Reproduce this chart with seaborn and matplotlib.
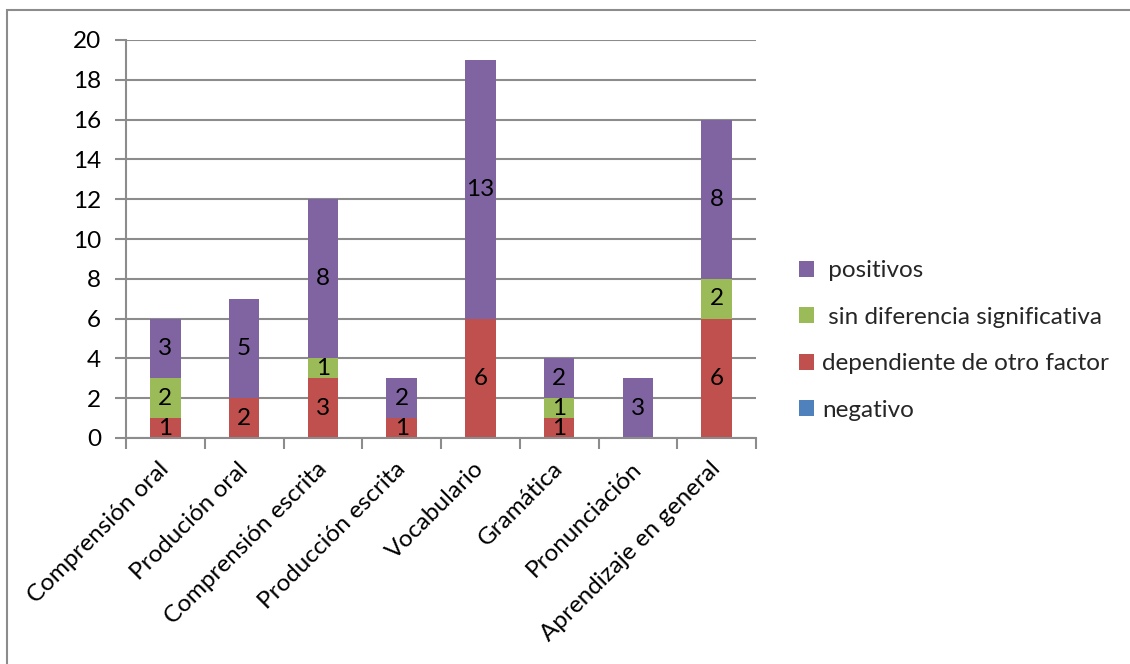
import matplotlib
matplotlib.use("Agg")
import matplotlib.pyplot as plt
from matplotlib.patches import Patch, Rectangle
from matplotlib.transforms import ScaledTranslation
import numpy as np
import pandas as pd
import seaborn as sns

# Categories and series counts
categorias = ["Comprensión oral", "Produción oral", "Comprensión escrita",
              "Producción escrita", "Vocabulario", "Gramática",
              "Pronunciación", "Aprendizaje en general"]
negativo = [0, 0, 0, 0, 0, 0, 0, 0]
dependiente = [1, 2, 3, 1, 6, 1, 0, 6]
sin_diferencia = [2, 0, 1, 0, 0, 1, 0, 2]
positivos = [3, 5, 8, 2, 13, 2, 3, 8]

series_names = ["negativo", "dependiente de otro factor",
                "sin diferencia significativa", "positivos"]
legend_labels = ["negativo", "dependiente de otro factor",
                 " sin diferencia significativa", " positivos"]
colors = ["#4F81BD", "#C0504D", "#9BBB59", "#8064A2"]

sns.set_theme(style="white")
plt.rcParams["font.family"] = ["Lato", "DejaVu Sans"]
FS = 17.5

df = pd.DataFrame({
    "categoria": categorias,
    "negativo": negativo,
    "dependiente de otro factor": dependiente,
    "sin diferencia significativa": sin_diferencia,
    "positivos": positivos,
})

fig = plt.figure(figsize=(11.30, 6.64), dpi=100)
ax = fig.add_axes([126 / 1130, 1 - 438 / 664, (756 - 126) / 1130, (438 - 40) / 664])

# Outer chart frame
fig.patches.append(Rectangle((7 / 1130, -0.1), 1.2, 1 - 10 / 664 + 0.1,
                             transform=fig.transFigure, fill=False,
                             edgecolor="#8C8C8C", linewidth=1.5, zorder=0))

# Stacked bars: draw cumulative totals from the top series down
cum = df[series_names].cumsum(axis=1)
bar_w = 0.39
for name, col in reversed(list(zip(series_names, colors))):
    sns.barplot(x=df["categoria"], y=cum[name], color=col, width=bar_w,
                saturation=1, ax=ax, zorder=2, linewidth=0)

# Value labels centred in each segment
for i in range(len(categorias)):
    base = 0
    for name in series_names:
        v = df[name].iloc[i]
        if v > 0:
            ax.text(i, base + v / 2, f"{v}", ha="center", va="center",
                    fontsize=FS, color="black", zorder=3)
        base += v

ax.set_xlim(-0.5, len(categorias) - 0.5)
ax.set_ylim(0, 20)
ax.set_yticks(np.arange(0, 21, 2))
ax.set_xlabel("")
ax.set_ylabel("")

grid_c = "#8C8C8C"
ax.grid(axis="y", color=grid_c, linewidth=1.5, zorder=0)
ax.set_axisbelow(True)
for side in ["top", "right"]:
    ax.spines[side].set_visible(False)
for side in ["left", "bottom"]:
    ax.spines[side].set_color(grid_c)
    ax.spines[side].set_linewidth(1.5)

ax.tick_params(axis="y", left=True, length=8, width=1.5, color=grid_c,
               labelsize=FS, pad=10, labelcolor="black")
ax.set_xticks(np.arange(len(categorias)))
ax.set_xticklabels(categorias, rotation=45, ha="right",
                   rotation_mode="anchor", fontsize=FS, color="black")
ax.tick_params(axis="x", which="major", length=0, pad=11)
shift = ScaledTranslation(-7 / 100, -5 / 100, fig.dpi_scale_trans)
for lab in ax.get_xticklabels():
    lab.set_transform(lab.get_transform() + shift)
ax.set_xticks(np.arange(-0.5, len(categorias)), minor=True)
ax.tick_params(axis="x", which="minor", bottom=True, length=8, width=1.5,
               color=grid_c)

handles = [Patch(facecolor=c, edgecolor="none", label=l)
           for c, l in zip(colors, legend_labels)]
ax.legend(handles=handles[::-1], loc="center left",
          bbox_to_anchor=(799 / 1130, 1 - 340.5 / 664),
          bbox_transform=fig.transFigure, frameon=False, fontsize=FS,
          handlelength=0.62, handleheight=0.62, handletextpad=0.33,
          labelspacing=1.05, borderaxespad=0, borderpad=0)

fig.savefig("out.png", dpi=100, facecolor="white")
